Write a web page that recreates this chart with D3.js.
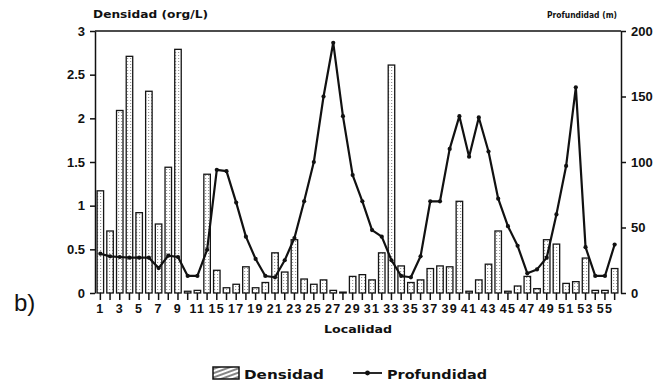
<!DOCTYPE html>
<html>
<head>
<meta charset="utf-8">
<script src="https://cdn.jsdelivr.net/npm/d3@7/dist/d3.min.js"></script>
<style>
  html, body { margin: 0; padding: 0; background: #fff; }
  svg { display: block; }
  text { fill: #111; }
</style>
</head>
<body>
<div id="chart"></div>
<script>
// Sampling stations (13 and 14 were not sampled)
const localidades = [1, 2, 3, 4, 5, 6, 7, 8, 9, 10, 11, 12,
  15, 16, 17, 18, 19, 20, 21, 22, 23, 24, 25, 26, 27, 28, 29, 30,
  31, 32, 33, 34, 35, 36, 37, 38, 39, 40, 41, 42, 43, 44, 45, 46,
  47, 48, 49, 50, 51, 52, 53, 54, 55, 56];

// Density of organisms per station (org/L)
const densidad = [1.17, 0.71, 2.09, 2.71, 0.92, 2.31, 0.79, 1.44, 2.79, 0.02,
  0.03, 1.36, 0.26, 0.06, 0.10, 0.30, 0.06, 0.12, 0.46, 0.24,
  0.61, 0.16, 0.10, 0.15, 0.03, 0.01, 0.19, 0.21, 0.15, 0.46,
  2.61, 0.31, 0.12, 0.15, 0.28, 0.31, 0.30, 1.05, 0.02, 0.15,
  0.33, 0.71, 0.02, 0.08, 0.19, 0.05, 0.61, 0.56, 0.11, 0.13,
  0.40, 0.03, 0.03, 0.28];

// Depth at each station (m)
const profundidad = [30, 28, 27.5, 27, 27, 27, 19, 28.5, 27.5, 13,
  13, 33, 94, 93, 69, 43, 26, 13, 12, 25,
  42, 70, 100, 150, 191, 135, 90, 70, 48, 43,
  25, 13, 12, 28, 70, 70, 110, 135, 104, 134,
  108, 72, 51, 36, 15, 18, 27, 60, 97, 157,
  35, 13, 13, 37];

const densTicks = [0, 0.5, 1, 1.5, 2, 2.5, 3];
const profTicks = [0, 50, 100, 150, 200];

const W = 668, H = 389;
const plotL = 95, plotR = 621, plotT = 31, plotB = 293;

const svg = d3.select("#chart").append("svg")
  .attr("width", W).attr("height", H)
  .style("font-family", "'DejaVu Sans', 'Liberation Sans', Arial, sans-serif");

// Fill textures
const defs = svg.append("defs");
const dots = defs.append("pattern").attr("id", "dots")
  .attr("patternUnits", "userSpaceOnUse").attr("width", 3).attr("height", 3);
dots.append("rect").attr("width", 3).attr("height", 3).attr("fill", "#fff");
dots.append("rect").attr("x", 1).attr("y", 1).attr("width", 1.2).attr("height", 1).attr("fill", "#9a9a9a");

const hatch = defs.append("pattern").attr("id", "hatch")
  .attr("patternUnits", "userSpaceOnUse").attr("width", 6).attr("height", 4)
  .attr("patternTransform", "rotate(-20)");
hatch.append("rect").attr("width", 6).attr("height", 4).attr("fill", "#fff");
hatch.append("line").attr("x1", 0).attr("x2", 6).attr("y1", 2).attr("y2", 2)
  .attr("stroke", "#222").attr("stroke-width", 1.1);

const x = d3.scaleBand()
  .domain(localidades.map(String))
  .range([plotL + 0.5, plotR - 1.5])
  .paddingInner(0.33)
  .paddingOuter(0.165);

const yL = d3.scaleLinear().domain([0, 3]).range([plotB, plotT]);
const yR = d3.scaleLinear().domain([0, 200]).range([plotB, plotT]);

// Bars: density
svg.append("g").selectAll("rect")
  .data(densidad)
  .join("rect")
  .attr("x", (d, i) => x(String(localidades[i])))
  .attr("y", d => yL(d))
  .attr("width", x.bandwidth())
  .attr("height", d => plotB - yL(d))
  .attr("fill", "url(#dots)")
  .attr("stroke", "#151515")
  .attr("stroke-width", 1.3);

// Top frame line
svg.append("line")
  .attr("x1", plotL).attr("x2", plotR).attr("y1", plotT).attr("y2", plotT)
  .attr("stroke", "#111").attr("stroke-width", 1.5);

// Left axis
const axL = svg.append("g").attr("transform", `translate(${plotL},0)`)
  .call(d3.axisLeft(yL).tickValues(densTicks).tickSize(5).tickSizeOuter(0)
    .tickPadding(5).tickFormat(d3.format("")));
// Right axis
const axR = svg.append("g").attr("transform", `translate(${plotR},0)`)
  .call(d3.axisRight(yR).tickValues(profTicks).tickSize(5).tickSizeOuter(0)
    .tickPadding(5));
// Bottom axis: tick at every station, label every second one
const axB = svg.append("g").attr("transform", `translate(0,${plotB})`)
  .call(d3.axisBottom(x).tickSize(7).tickPadding(4)
    .tickFormat((d, i) => (i % 2 === 0 ? d : "")));
axB.select(".domain").remove();

[axL, axR, axB].forEach(g => {
  g.selectAll("path, line").attr("stroke", "#111").attr("stroke-width", 1.5);
  g.selectAll("text")
    .attr("font-size", 13).attr("font-weight", "bold")
    .style("font-family", "'Liberation Sans', Arial, sans-serif")
    .attr("fill", "#111");
});
axB.selectAll("text").attr("font-size", 12.5).attr("letter-spacing", 1.3);

// Depth line with point markers
const line = d3.line()
  .x((d, i) => x(String(localidades[i])) + x.bandwidth() / 2)
  .y(d => yR(d));
svg.append("path")
  .datum(profundidad)
  .attr("d", line)
  .attr("fill", "none")
  .attr("stroke", "#111")
  .attr("stroke-width", 2.2)
  .attr("stroke-linejoin", "round");
svg.append("g").selectAll("circle")
  .data(profundidad)
  .join("circle")
  .attr("cx", (d, i) => x(String(localidades[i])) + x.bandwidth() / 2)
  .attr("cy", d => yR(d))
  .attr("r", 2.1)
  .attr("fill", "#111");

// Axis titles
svg.append("text")
  .attr("x", plotL - 2).attr("y", 18)
  .attr("font-size", 10).attr("font-weight", "bold")
  .attr("textLength", 115).attr("lengthAdjust", "spacingAndGlyphs")
  .text("Densidad (org/L)");
svg.append("text")
  .attr("x", plotR - 4).attr("y", 18)
  .attr("text-anchor", "end")
  .attr("font-size", 8).attr("font-weight", "bold")
  .attr("textLength", 70).attr("lengthAdjust", "spacingAndGlyphs")
  .text("Profundidad (m)");
svg.append("text")
  .attr("x", (plotL + plotR) / 2).attr("y", 333)
  .attr("text-anchor", "middle")
  .attr("font-size", 10.5).attr("font-weight", "bold")
  .attr("textLength", 68).attr("lengthAdjust", "spacingAndGlyphs")
  .text("Localidad");

// Panel tag
svg.append("text")
  .attr("x", 14).attr("y", 311)
  .attr("font-size", 24)
  .style("font-family", "'Liberation Sans', Arial, sans-serif")
  .text("b)");

// Legend
const lg = svg.append("g").attr("transform", "translate(213,367)");
lg.append("rect").attr("x", 0).attr("y", 0).attr("width", 26).attr("height", 12)
  .attr("fill", "url(#hatch)").attr("stroke", "#111").attr("stroke-width", 1.5);
lg.append("text").attr("x", 31).attr("y", 12)
  .attr("font-size", 12.5).attr("font-weight", "bold")
  .attr("textLength", 80).attr("lengthAdjust", "spacingAndGlyphs")
  .text("Densidad");
lg.append("line").attr("x1", 140).attr("x2", 169).attr("y1", 6).attr("y2", 6)
  .attr("stroke", "#111").attr("stroke-width", 1.8);
lg.append("circle").attr("cx", 154.5).attr("cy", 6).attr("r", 2.4).attr("fill", "#111");
lg.append("text").attr("x", 174).attr("y", 12)
  .attr("font-size", 12.5).attr("font-weight", "bold")
  .attr("textLength", 100).attr("lengthAdjust", "spacingAndGlyphs")
  .text("Profundidad");
</script>
</body>
</html>
